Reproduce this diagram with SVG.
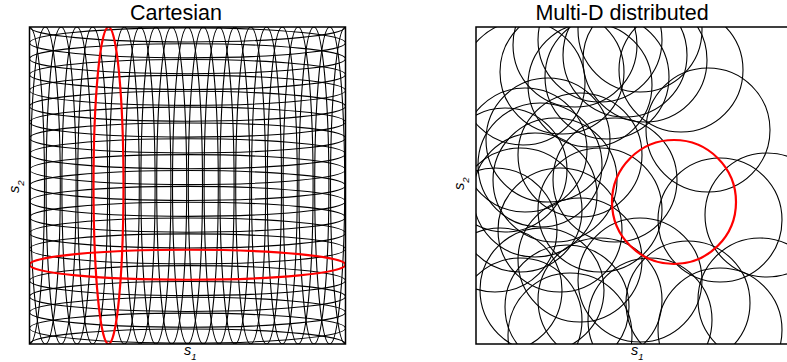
<svg xmlns="http://www.w3.org/2000/svg" width="787" height="362" viewBox="0 0 787 362">
<style>
.t{font-family:"Liberation Sans",Arial,sans-serif;font-size:21.5px;fill:#000;text-anchor:middle}
.lab{font-family:"Liberation Sans",Arial,sans-serif;font-size:14.5px;font-style:italic;fill:#000}
.sub{font-size:9.5px}
.k{fill:none;stroke:#000;stroke-width:1.1}
.r{fill:none;stroke:#f00;stroke-width:2.2}
.box{fill:none;stroke:#000;stroke-width:1.5}
</style>
<defs>
<clipPath id="cl"><rect x="29.5" y="27" width="316" height="317"/></clipPath>
<clipPath id="cr"><rect x="476" y="27" width="316" height="317"/></clipPath>
</defs>
<rect width="787" height="362" fill="#fff"/>
<text class="t" x="176" y="20">Cartesian</text>
<text class="t" x="622" y="20">Multi-D distributed</text>
<g id="cartesian" clip-path="url(#cl)">
<g id="vertical">
<ellipse class="k" cx="29.5" cy="185.5" rx="15" ry="158.5"/>
<ellipse class="k" cx="45.3" cy="185.5" rx="15" ry="158.5"/>
<ellipse class="k" cx="61.1" cy="185.5" rx="15" ry="158.5"/>
<ellipse class="k" cx="76.9" cy="185.5" rx="15" ry="158.5"/>
<ellipse class="k" cx="92.7" cy="185.5" rx="15" ry="158.5"/>
<ellipse class="k" cx="124.3" cy="185.5" rx="15" ry="158.5"/>
<ellipse class="k" cx="140.1" cy="185.5" rx="15" ry="158.5"/>
<ellipse class="k" cx="155.9" cy="185.5" rx="15" ry="158.5"/>
<ellipse class="k" cx="171.7" cy="185.5" rx="15" ry="158.5"/>
<ellipse class="k" cx="187.5" cy="185.5" rx="15" ry="158.5"/>
<ellipse class="k" cx="203.3" cy="185.5" rx="15" ry="158.5"/>
<ellipse class="k" cx="219.1" cy="185.5" rx="15" ry="158.5"/>
<ellipse class="k" cx="234.9" cy="185.5" rx="15" ry="158.5"/>
<ellipse class="k" cx="250.7" cy="185.5" rx="15" ry="158.5"/>
<ellipse class="k" cx="266.5" cy="185.5" rx="15" ry="158.5"/>
<ellipse class="k" cx="282.3" cy="185.5" rx="15" ry="158.5"/>
<ellipse class="k" cx="298.1" cy="185.5" rx="15" ry="158.5"/>
<ellipse class="k" cx="313.9" cy="185.5" rx="15" ry="158.5"/>
<ellipse class="k" cx="329.7" cy="185.5" rx="15" ry="158.5"/>
<ellipse class="k" cx="345.5" cy="185.5" rx="15" ry="158.5"/>
</g>
<g id="horizontal">
<ellipse class="k" cx="187.5" cy="27" rx="158" ry="15"/>
<ellipse class="k" cx="187.5" cy="42.85" rx="158" ry="15"/>
<ellipse class="k" cx="187.5" cy="58.7" rx="158" ry="15"/>
<ellipse class="k" cx="187.5" cy="74.55" rx="158" ry="15"/>
<ellipse class="k" cx="187.5" cy="90.4" rx="158" ry="15"/>
<ellipse class="k" cx="187.5" cy="106.25" rx="158" ry="15"/>
<ellipse class="k" cx="187.5" cy="122.1" rx="158" ry="15"/>
<ellipse class="k" cx="187.5" cy="137.95" rx="158" ry="15"/>
<ellipse class="k" cx="187.5" cy="153.8" rx="158" ry="15"/>
<ellipse class="k" cx="187.5" cy="169.65" rx="158" ry="15"/>
<ellipse class="k" cx="187.5" cy="185.5" rx="158" ry="15"/>
<ellipse class="k" cx="187.5" cy="201.35" rx="158" ry="15"/>
<ellipse class="k" cx="187.5" cy="217.2" rx="158" ry="15"/>
<ellipse class="k" cx="187.5" cy="233.05" rx="158" ry="15"/>
<ellipse class="k" cx="187.5" cy="248.9" rx="158" ry="15"/>
<ellipse class="k" cx="187.5" cy="280.6" rx="158" ry="15"/>
<ellipse class="k" cx="187.5" cy="296.45" rx="158" ry="15"/>
<ellipse class="k" cx="187.5" cy="312.3" rx="158" ry="15"/>
<ellipse class="k" cx="187.5" cy="328.15" rx="158" ry="15"/>
<ellipse class="k" cx="187.5" cy="344" rx="158" ry="15"/>
</g>
<ellipse id="red-vertical" class="r" cx="108.5" cy="185.5" rx="15" ry="158.5"/>
<ellipse id="red-horizontal" class="r" cx="187.5" cy="264.75" rx="158" ry="15"/>
</g>
<rect class="box" x="29.5" y="27" width="316" height="317"/>
<text class="lab" x="184" y="355">s<tspan class="sub" dy="5">1</tspan></text>
<text class="lab" transform="translate(18.5,193) rotate(-90)">s<tspan class="sub" dy="5">2</tspan></text>
<g id="distributed" clip-path="url(#cr)">
<g id="circles">
<circle class="k" cx="523" cy="83" r="62"/>
<circle class="k" cx="562" cy="72" r="62"/>
<circle class="k" cx="681" cy="70" r="62"/>
<circle class="k" cx="600" cy="40" r="62"/>
<circle class="k" cx="625" cy="55" r="62"/>
<circle class="k" cx="590" cy="85" r="62"/>
<circle class="k" cx="640" cy="30" r="62"/>
<circle class="k" cx="575" cy="45" r="62"/>
<circle class="k" cx="607" cy="77" r="62"/>
<circle class="k" cx="645" cy="60" r="62"/>
<circle class="k" cx="505" cy="170" r="62"/>
<circle class="k" cx="525" cy="150" r="62"/>
<circle class="k" cx="540" cy="165" r="62"/>
<circle class="k" cx="548" cy="140" r="62"/>
<circle class="k" cx="555" cy="180" r="62"/>
<circle class="k" cx="580" cy="155" r="62"/>
<circle class="k" cx="520" cy="210" r="62"/>
<circle class="k" cx="535" cy="195" r="62"/>
<circle class="k" cx="560" cy="230" r="62"/>
<circle class="k" cx="600" cy="210" r="62"/>
<circle class="k" cx="615" cy="180" r="62"/>
<circle class="k" cx="495" cy="230" r="62"/>
<circle class="k" cx="708" cy="130" r="62"/>
<circle class="k" cx="720" cy="220" r="62"/>
<circle class="k" cx="767" cy="215" r="62"/>
<circle class="k" cx="500" cy="290" r="62"/>
<circle class="k" cx="520" cy="320" r="62"/>
<circle class="k" cx="542" cy="290" r="62"/>
<circle class="k" cx="567" cy="307" r="62"/>
<circle class="k" cx="580" cy="260" r="62"/>
<circle class="k" cx="600" cy="300" r="62"/>
<circle class="k" cx="570" cy="335" r="62"/>
<circle class="k" cx="640" cy="280" r="62"/>
<circle class="k" cx="688" cy="303" r="62"/>
<circle class="k" cx="720" cy="330" r="62"/>
<circle class="k" cx="760" cy="300" r="62"/>
<circle class="k" cx="650" cy="320" r="62"/>
</g>
<circle id="red-circle" class="r" cx="674" cy="202" r="62"/>
</g>
<rect class="box" x="476" y="27" width="316" height="317"/>
<text class="lab" x="631" y="355">s<tspan class="sub" dy="5">1</tspan></text>
<text class="lab" transform="translate(463.5,190) rotate(-90)">s<tspan class="sub" dy="5">2</tspan></text>
</svg>
